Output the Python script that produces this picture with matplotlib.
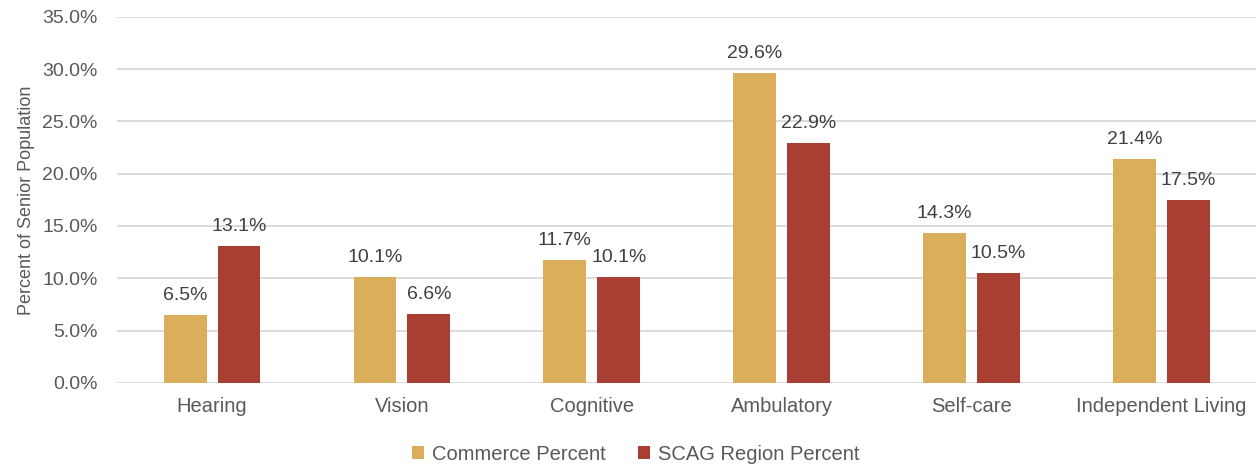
import matplotlib
matplotlib.use("Agg")
import matplotlib.pyplot as plt
import numpy as np
from matplotlib.ticker import FuncFormatter

categories = ["Hearing", "Vision", "Cognitive", "Ambulatory", "Self-care", "Independent Living"]
commerce = [6.5, 10.1, 11.7, 29.6, 14.3, 21.4]
scag = [13.1, 6.6, 10.1, 22.9, 10.5, 17.5]
series_names = ["Commerce Percent", "SCAG Region Percent"]

plt.rcParams['font.family'] = ['Liberation Sans', 'DejaVu Sans']
text_color = "#595959"
gold = "#DAAE5A"
red = "#A93E32"

fig = plt.figure(figsize=(12.59, 4.68), dpi=100)
ax = fig.add_axes([0.093, 0.182, 0.905, 0.782])

x = np.arange(len(categories))
w = 0.226
off = 0.142
b1 = ax.bar(x - off, commerce, w, color=gold, label=series_names[0], zorder=3)
b2 = ax.bar(x + off, scag, w, color=red, label=series_names[1], zorder=3)

for bars, vals in ((b1, commerce), (b2, scag)):
    for b, v in zip(bars, vals):
        ax.annotate(f"{v:.1f}%", (b.get_x() + b.get_width() / 2, v),
                    xytext=(0, 8), textcoords="offset points",
                    ha="center", va="bottom", fontsize=14, color="#404040")

ax.set_xlim(-0.5, len(categories) - 0.5)
ax.set_ylim(0, 35)
ax.set_yticks(np.arange(0, 35.1, 5))
ax.yaxis.set_major_formatter(FuncFormatter(lambda v, p: f"{v:.1f}%"))
ax.set_xticks(x)
ax.set_xticklabels(categories)
ax.tick_params(axis="both", length=0, labelsize=14, colors=text_color)
ax.tick_params(axis="x", labelsize=14.5, pad=10)
ax.tick_params(axis="y", pad=14)
ax.grid(axis="y", color="#D9D9D9", linewidth=1.3, zorder=0)
for s in ax.spines.values():
    s.set_visible(False)
ax.set_ylabel("Percent of Senior Population", fontsize=13, color=text_color, labelpad=5)

fig.legend(handles=[b1, b2], labels=series_names, loc="lower center",
           bbox_to_anchor=(0.505, -0.03), ncol=2, frameon=False,
           fontsize=14.5, labelcolor=text_color, handlelength=0.6, handleheight=0.6,
           handletextpad=0.4, columnspacing=1.6)

fig.savefig("out.png", dpi=100)
